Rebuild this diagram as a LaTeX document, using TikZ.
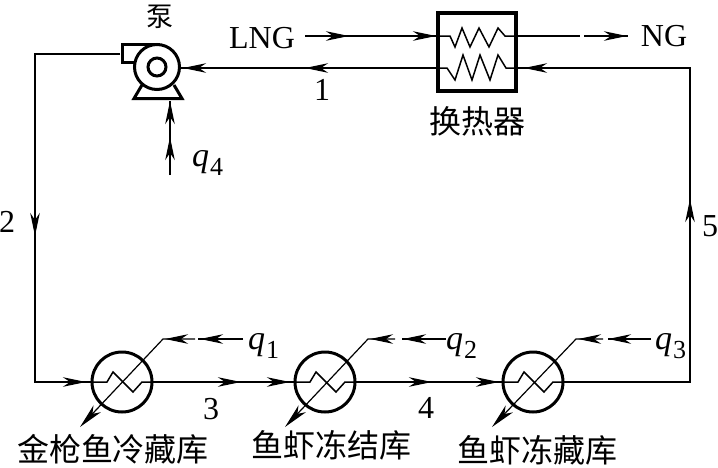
\documentclass[tikz,border=0pt]{standalone}
\usepackage{fontspec}
\setmainfont{Liberation Serif}
\newfontfamily\cjk{Noto Sans CJK SC}
\usetikzlibrary{arrows.meta,decorations.markings}
\newcommand{\qlab}[1]{\fontsize{34}{34}\selectfont\textit{q}\kern1pt\raisebox{-9pt}{\fontsize{26}{26}\selectfont #1}}
\tikzset{
  tipm/.tip={Stealth[length=23pt,width=9.5pt,inset=7pt]},
  head/.style={postaction={decorate,decoration={markings,mark=at position #1 with {\arrow{tipm}}}}},
  pipe/.style={line width=1.5pt,black},
  thin line/.style={line width=1.2pt,black},
  heavy/.style={line width=3pt,black},
  hx/.style={circle,draw,line width=3pt,minimum size=60pt,inner sep=0pt,outer sep=0pt},
  cjklab/.style={font=\cjk\fontsize{32}{32}\selectfont,inner sep=0pt},
  latlab/.style={font=\fontsize{32}{32}\selectfont,inner sep=0pt},
  qtext/.style={anchor=west,inner sep=0pt}
}
\begin{document}
\begin{tikzpicture}[x=1pt,y=-1pt]
\useasboundingbox (0,0) rectangle (718,467);
% pump
\node[circle,draw,line width=3pt,minimum size=45pt,inner sep=0pt,outer sep=0pt] (pump) at (157,67) {};
\node[circle,draw,line width=3pt,minimum size=18pt,inner sep=0pt] (pumpin) at (157,67) {};
\draw[heavy,line join=miter] (160,44) -- (122,44) -- (122,62) -- (136,62);
\draw[heavy,line join=miter] (142,85) -- (134,98.5) -- (182,98.5) -- (174,85);
% exchanger
\node[draw,line width=3.2pt,minimum size=78pt,inner sep=0pt,outer sep=0pt] (ex) at (477,52) {};
\coordinate (exUL) at (437,36);\coordinate (exUR) at (517,36);
\coordinate (exLL) at (437,68);\coordinate (exLR) at (517,68);
\draw[pipe] (exUL) -- (450,36) -- (455,47) -- (462,28) -- (470,47) -- (479,28) -- (489,47) -- (498,28) -- (505,36) -- (exUR);
\draw[pipe] (exLL) -- (447,68) -- (455,80) -- (463,55) -- (472,80) -- (480,55) -- (490,80) -- (498,55) -- (506,68) -- (exLR);
% heat exchangers in the cold rooms
\node[hx] (c1) at (122,382) {};
\node[hx] (c2) at (325,382) {};
\node[hx] (c3) at (533,382) {};
\foreach \c in {c1,c2,c3}{
  \draw[pipe] ([xshift=-31pt]\c.center) -- ([xshift=-15pt]\c.center) -- ([xshift=-9pt,yshift=10pt]\c.center) -- ([xshift=11pt,yshift=-10pt]\c.center) -- ([xshift=20pt]\c.center) -- ([xshift=31pt]\c.center);
}
% named free ends
\coordinate (pout) at (120,54);
\coordinate (tl) at (35,54);\coordinate (bl) at (35,382);
\coordinate (br) at (690,382);\coordinate (tr) at (690,68);
\coordinate (pumpE) at (181,68);
\coordinate (lngS) at (305,36);
\coordinate (ngA) at (580,36);\coordinate (ngB) at (584,36);\coordinate (ngE) at (628,36);
\coordinate (q4S) at (170,175);\coordinate (q4E) at (170,101);
% main loop
\draw[pipe,head=267pt,head=464pt] (pout) -- (tl) -- (bl) -- (c1.west);
\draw[pipe,head=89pt,head=138pt] (c1.east) -- (c2.west);
\draw[pipe,head=77pt,head=144pt] (c2.east) -- (c3.west);
\draw[pipe,head=310pt,head=607pt] (c3.east) -- (br) -- (tr) -- (exLR);
\draw[pipe,head=132pt,head=254pt] (exLL) -- (pumpE);
\draw[pipe,head=44pt,head=131pt] (lngS) -- (exUL);
\draw[pipe] (exUR) -- (ngA);
\draw[pipe,head=43pt] (ngB) -- (ngE);
\draw[thin line,head=38pt,head=74pt] (q4S) -- (q4E);
% heat inputs
\coordinate (k1) at (163,339);\coordinate (g1a) at (195,339);\coordinate (g1b) at (198,339);\coordinate (g1e) at (243,339);\coordinate (t1) at (80,427);
\coordinate (k2) at (368,339);\coordinate (g2a) at (395,339);\coordinate (g2b) at (402,339);\coordinate (g2e) at (446,339);\coordinate (t2) at (285,427);
\coordinate (k3) at (576,339);\coordinate (g3a) at (603,339);\coordinate (g3b) at (608,339);\coordinate (g3e) at (651,339);\coordinate (t3) at (492,427);
\foreach \i/\m in {1/30pt,2/25pt,3/25pt}{
  \draw[thin line,head=43pt] (g\i e) -- (g\i b);
  \draw[thin line,head=\m,-{Stealth[length=25pt,width=10pt,inset=7pt]}] (g\i a) -- (k\i) -- (t\i);
}
% labels
\node[cjklab,font=\cjk\fontsize{27}{27}\selectfont] (lbump) at (160,16.5) {泵};
\node[latlab] (llng) at (262,38) {LNG};
\node[latlab] (lng) at (664,36) {NG};
\node[cjklab] (lex) at (477,121) {换热器};
\node[latlab] (l1) at (322,90) {1};
\node[latlab] (l2) at (7,222) {2};
\node[latlab] (l3) at (211,409) {3};
\node[latlab] (l4) at (426,408) {4};
\node[latlab] (l5) at (710,226) {5};
\node[qtext] (q1) at (248,346) {\qlab{1}};
\node[qtext] (q2) at (446,346) {\qlab{2}};
\node[qtext] (q3) at (655,346) {\qlab{3}};
\node[qtext] (q4) at (192,163) {\qlab{4}};
\node[cjklab] (n1) at (113,449) {金枪鱼冷藏库};
\node[cjklab] (n2) at (331,445) {鱼虾冻结库};
\node[cjklab] (n3) at (537,450) {鱼虾冻藏库};
\end{tikzpicture}
\end{document}
